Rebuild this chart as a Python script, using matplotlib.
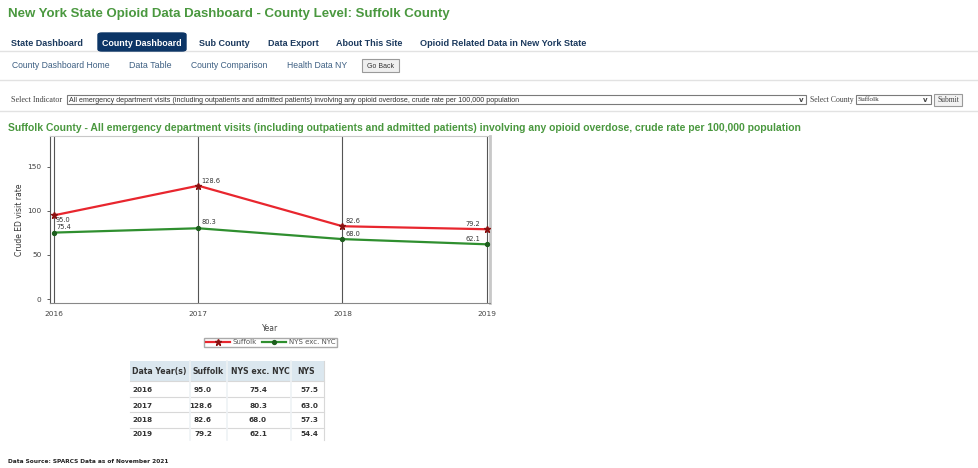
import matplotlib
matplotlib.use("Agg")
import matplotlib.pyplot as plt
from matplotlib.patches import Rectangle, FancyBboxPatch

years = [2016, 2017, 2018, 2019]
suffolk = [95.0, 128.6, 82.6, 79.2]
nys_exc_nyc = [75.4, 80.3, 68.0, 62.1]
nys = [57.5, 63.0, 57.3, 54.4]
series_names = ["Suffolk", "NYS exc. NYC"]
table_header = ["Data Year(s)", "Suffolk", "NYS exc. NYC", "NYS"]

nav_items = ["State Dashboard", "County Dashboard", "Sub County", "Data Export",
             "About This Site", "Opioid Related Data in New York State"]
subnav_items = ["County Dashboard Home", "Data Table", "County Comparison", "Health Data NY"]
indicator = ("All emergency department visits (including outpatients and admitted patients) "
             "involving any opioid overdose, crude rate per 100,000 population")

W, H = 979, 468
GREEN_TXT = "#4a983f"
NAVY = "#0c3566"
SANS = "Liberation Sans"

fig = plt.figure(figsize=(W / 100, H / 100), dpi=100)
renderer = fig.canvas.get_renderer()


def fx(x):
    return x / W


def fy(y):
    return 1 - y / H


def txt(x, y, s, width=None, size=7, **kw):
    kw.setdefault("va", "center_baseline")
    kw.setdefault("family", "DejaVu Sans")
    t = fig.text(fx(x), fy(y), s, fontsize=size, **kw)
    if width:
        bb = t.get_window_extent(renderer)
        t.set_fontsize(size * width / bb.width)
    return t


def box(x0, y0, x1, y1, fc="white", ec="#999999", lw=0.8, z=1):
    fig.add_artist(Rectangle((fx(x0), fy(y1)), fx(x1) - fx(x0), fy(y0) - fy(y1),
                             transform=fig.transFigure, fc=fc, ec=ec, lw=lw, zorder=z))


def hline(y, x0=0, x1=W, color="#e2e2e2", lw=1.0):
    fig.add_artist(plt.Line2D([fx(x0), fx(x1)], [fy(y), fy(y)], transform=fig.transFigure,
                              color=color, lw=lw, zorder=1))


# header
txt(8, 13, "New York State Opioid Data Dashboard - County Level: Suffolk County",
    width=445, size=9.5, weight="bold", family=SANS, color=GREEN_TXT)

hline(51)
hline(80)
hline(111)

nav_x = [(11, 84), (102, 183), (199, 250), (268, 319), (336, 403), (420, 589)]
fig.add_artist(FancyBboxPatch((fx(98), fy(51)), fx(186) - fx(98), fy(33) - fy(51),
                              boxstyle="round,pad=0,rounding_size=0.004",
                              transform=fig.transFigure, fc=NAVY, ec=NAVY, zorder=2))
for name, (x0, x1) in zip(nav_items, nav_x):
    c = "white" if name == "County Dashboard" else "#1c3a5e"
    txt(x0, 42, name, width=x1 - x0, size=6, weight="bold", family=SANS, color=c, zorder=3)

sub_x = [(12, 111), (129, 172), (191, 268), (287, 347)]
for name, (x0, x1) in zip(subnav_items, sub_x):
    txt(x0, 65, name, width=x1 - x0, size=6, family=SANS, color="#3d5f82")
box(362, 59, 399, 72, fc="#efefef", ec="#9a9a9a")
txt(380.5, 65.5, "Go Back", width=27, size=5, ha="center", family=SANS,
    color="#333333", zorder=3)

# selectors
txt(11, 99, "Select Indicator", width=52, size=5, family="Liberation Serif", color="#444444")
box(67, 95, 806, 104, ec="#7a7a7a")
txt(69, 99.5, indicator, width=460, size=5, family=SANS, color="#333333", zorder=3)
txt(801, 99.5, "v", size=5, ha="center", weight="bold", color="#444444", zorder=3)
txt(810, 99, "Select County", width=44, size=5, family="Liberation Serif", color="#444444")
box(856, 95, 931, 104, ec="#7a7a7a")
txt(858, 99, "Suffolk", width=22, size=5, family="Liberation Serif", color="#333333", zorder=3)
txt(925, 99.5, "v", size=5, ha="center", weight="bold", color="#444444", zorder=3)
box(934, 94, 962, 106, fc="#f2f2f2", ec="#9a9a9a")
txt(948, 99.5, "Submit", width=22, size=5, ha="center", family="Liberation Serif",
    color="#444444", zorder=3)

txt(8, 127, "Suffolk County - " + indicator, width=798, size=7, weight="bold",
    family=SANS, color=GREEN_TXT)

# chart
ax = fig.add_axes([fx(50), fy(303), fx(490) - fx(50), fy(136) - fy(303)])
ax.set_xlim(2015.972, 2019.023)
ax.set_ylim(-4.5, 185)
ax.plot(years, suffolk, color="#e8262e", lw=1.6, marker="*", ms=5,
        mfc="#8b1010", mec="#8b1010", label=series_names[0], zorder=3)
ax.plot(years, nys_exc_nyc, color="#2f8f2f", lw=1.6, marker="o", ms=2.8,
        mfc="#1d5e1d", mec="#1d5e1d", label=series_names[1], zorder=3)

off_suffolk = [(2, -5, "left"), (3, 5, "left"), (3, 5, "left"), (-6, 5, "right")]
off_nys = [(2, 6, "left"), (3, 6, "left"), (3, 5, "left"), (-6, 5, "right")]
for vals, offs in ((suffolk, off_suffolk), (nys_exc_nyc, off_nys)):
    for xv, yv, (dx, dy, ha) in zip(years, vals, offs):
        ax.annotate(f"{yv:.1f}", (xv, yv), xytext=(dx, dy), textcoords="offset pixels",
                    ha=ha, va="center", fontsize=4.8, color="#333333", zorder=4)

ax.set_xticks(years)
ax.set_yticks([0, 50, 100, 150])
ax.grid(axis="x", color="#555555", lw=0.8)
ax.tick_params(axis="both", labelsize=5.3, colors="#444444", length=2.5, width=0.6)
ax.tick_params(axis="x", length=0, pad=6)
for side in ("top", "right"):
    ax.spines[side].set_color("#c8c8c8")
ax.spines["right"].set_linewidth(2)
ax.spines["left"].set_color("#555555")
ax.spines["bottom"].set_color("#888888")
ax.set_xlabel("Year", fontsize=5.5, color="#444444", labelpad=5)
ax.set_ylabel("Crude ED visit rate", fontsize=5.5, color="#333333", labelpad=2.6)

fig.legend(loc="center", bbox_to_anchor=(fx(270.5), fy(342.5)), ncol=2, fontsize=5,
           frameon=True, fancybox=False, edgecolor="#aaaaaa", handlelength=3.4,
           borderpad=0.25, columnspacing=0.8, handletextpad=0.4, labelcolor="#555555",
           framealpha=1)

# table
col_edges = [130, 190, 227, 291, 324]
row_edges = [361, 381, 397, 412, 428, 440]
box(col_edges[0], row_edges[0], col_edges[-1], row_edges[1], fc="#dbe7ef", ec="none", lw=0)
for xe in col_edges[1:-1]:
    fig.add_artist(plt.Line2D([fx(xe), fx(xe)], [fy(row_edges[0]), fy(row_edges[-1])],
                              transform=fig.transFigure, color="#eef2f5", lw=1.2, zorder=2))
for ye in row_edges[1:-1]:
    hline(ye, col_edges[0], col_edges[-1], color="#d8d8d8", lw=0.8)
fig.add_artist(plt.Line2D([fx(col_edges[-1]), fx(col_edges[-1])], [fy(row_edges[0]), fy(row_edges[-1])],
                          transform=fig.transFigure, color="#d8d8d8", lw=0.8, zorder=2))

head_x = [132, 193, 231, 297]
for s, x0 in zip(table_header, head_x):
    txt(x0, 374, s, size=5.6, weight="bold", va="baseline", color="#333333", zorder=3)

row_y = [389, 405, 420, 434]
for i, yy in enumerate(row_y):
    txt(132, yy, str(years[i]), size=5.2, weight="bold", color="#333333", zorder=3)
    txt(212, yy, f"{suffolk[i]:.1f}", size=5.2, weight="bold", ha="right", color="#333333", zorder=3)
    txt(267, yy, f"{nys_exc_nyc[i]:.1f}", size=5.2, weight="bold", ha="right", color="#333333", zorder=3)
    txt(318, yy, f"{nys[i]:.1f}", size=5.2, weight="bold", ha="right", color="#333333", zorder=3)

txt(8, 461, "Data Source: SPARCS Data as of November 2021", width=162, size=5.5,
    weight="bold", color="#222222")

fig.savefig("out.png", dpi=100, facecolor="white")
